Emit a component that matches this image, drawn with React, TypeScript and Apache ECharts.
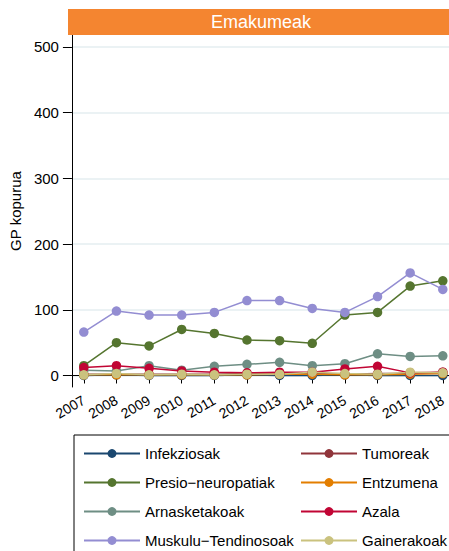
import React, { useEffect, useRef } from 'react';
import * as echarts from 'echarts';

const years = [2007, 2008, 2009, 2010, 2011, 2012, 2013, 2014, 2015, 2016, 2017, 2018];
const yTicks = [0, 100, 200, 300, 400, 500];

const infekziosak = [0, 1, 0, 0, 0, 1, 0, 0, 1, 0, 0, 0];
const tumoreak = [2, 2, 2, 2, 2, 3, 2, 3, 2, 3, 3, 5];
const presio = [15, 50, 45, 70, 64, 54, 53, 49, 92, 96, 136, 144];
const entzumena = [1, 1, 1, 1, 1, 1, 2, 2, 1, 1, 2, 3];
const arnasketakoak = [8, 7, 15, 8, 14, 17, 20, 15, 18, 33, 29, 30];
const azala = [12, 15, 11, 7, 5, 4, 5, 5, 10, 14, 4, 5];
const muskulu = [66, 98, 92, 92, 96, 114, 114, 102, 96, 120, 156, 131];
const gainerakoak = [1, 3, 1, 2, 1, 2, 2, 5, 3, 2, 5, 4];

const seriesDefs = [
  { name: 'Infekziosak', data: infekziosak, color: '#1a476f' },
  { name: 'Tumoreak', data: tumoreak, color: '#90353b' },
  { name: 'Presio−neuropatiak', data: presio, color: '#55752f' },
  { name: 'Entzumena', data: entzumena, color: '#e37e00' },
  { name: 'Arnasketakoak', data: arnasketakoak, color: '#6e8e84' },
  { name: 'Azala', data: azala, color: '#c10534' },
  { name: 'Muskulu−Tendinosoak', data: muskulu, color: '#938dd2' },
  { name: 'Gainerakoak', data: gainerakoak, color: '#cac27e' },
];

const legendLeft = ['Infekziosak', 'Presio−neuropatiak', 'Arnasketakoak', 'Muskulu−Tendinosoak'];
const legendRight = ['Tumoreak', 'Entzumena', 'Azala', 'Gainerakoak'];

const FONT = '"Liberation Sans", Arial, Helvetica, sans-serif';

export default function App() {
  const ref = useRef<HTMLDivElement>(null);
  useEffect(() => {
    const chart = echarts.init(ref.current!, null, { renderer: 'svg' });
    const legendCommon = {
      orient: 'vertical',
      top: 446,
      height: 110,
      padding: 0,
      itemWidth: 56,
      itemHeight: 11,
      itemGap: 14,
      textStyle: { fontSize: 15, color: '#000', fontFamily: FONT },
      selectedMode: false,
    };
    chart.setOption({
      animation: false,
      textStyle: { fontFamily: FONT },
      grid: { left: 68, right: 0, top: 35, bottom: 164, containLabel: false },
      graphic: [
        {
          type: 'rect',
          shape: { x: 68, y: 9, width: 381, height: 26 },
          style: { fill: '#f48530' },
          z: 100,
        },
        {
          type: 'text',
          x: 261,
          y: 22,
          style: {
            text: 'Emakumeak',
            fill: '#fff',
            fontSize: 18,
            fontFamily: FONT,
            align: 'center',
            verticalAlign: 'middle',
          },
          z: 101,
        },
        {
          type: 'rect',
          shape: { x: 74, y: 435, width: 400, height: 140 },
          style: { fill: 'none', stroke: '#000', lineWidth: 1 },
        },
      ],
      xAxis: {
        type: 'value',
        min: 2006.636,
        max: 2018.19,
        axisLine: { show: true, lineStyle: { color: '#000', width: 1 } },
        axisTick: { show: true, length: 8, customValues: years, lineStyle: { color: '#000' } },
        axisLabel: {
          customValues: years,
          rotate: 30,
          fontSize: 14,
          color: '#000',
          margin: 12,
          formatter: (v: number) => String(v),
        },
        splitLine: { show: false },
      },
      yAxis: {
        type: 'value',
        min: -17.5,
        max: 518,
        name: 'GP kopurua',
        nameLocation: 'middle',
        nameGap: 44,
        nameTextStyle: { fontSize: 15, color: '#000', fontFamily: FONT },
        axisLine: { show: true, lineStyle: { color: '#000', width: 1 } },
        axisTick: { show: true, length: 9, customValues: yTicks, lineStyle: { color: '#000' } },
        axisLabel: { customValues: yTicks, fontSize: 15, color: '#000', margin: 13 },
        splitLine: { show: true, lineStyle: { color: '#e4eef1', width: 1.5 } },
      },
      legend: [
        { ...legendCommon, left: 83, data: legendLeft },
        { ...legendCommon, left: 300, data: legendRight },
      ],
      series: seriesDefs.map((s) => ({
        name: s.name,
        type: 'line',
        data: years.map((y, i) => [y, s.data[i]]),
        symbol: 'circle',
        symbolSize: 9.5,
        color: s.color,
        lineStyle: { width: 1.5, color: s.color },
        itemStyle: { color: s.color },
        clip: false,
      })),
    });
    return () => chart.dispose();
  }, []);
  return (
    <div
      ref={ref}
      style={{ position: 'absolute', left: 0, top: 0, width: 449, height: 551 }}
    />
  );
}
